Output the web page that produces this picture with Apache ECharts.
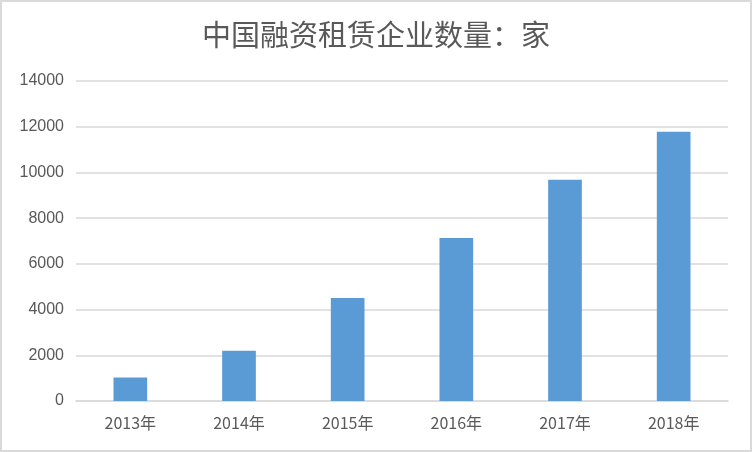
<!doctype html>
<html lang="zh">
<head>
<meta charset="UTF-8"/>
<title>中国融资租赁企业数量</title>
<script src="https://cdn.jsdelivr.net/npm/echarts@6/dist/echarts.min.js"></script>
<style>
	html, body { margin: 0; padding: 0; background: #fff; }
	#main { width: 748px; height: 448px; border: 2px solid #d9d9d9; }
</style>
</head>
<body>
<div id="main"></div>
<script type="text/javascript">
	// 数据
	var years = ['2013年', '2014年', '2015年', '2016年', '2017年', '2018年'];
	var counts = [1026, 2202, 4508, 7136, 9676, 11777];
	var yTicks = [0, 2000, 4000, 6000, 8000, 10000, 12000, 14000];

	var myChart = echarts.init(document.getElementById('main'));
	var option = {
		animation: false,
		title: {
			text: '中国融资租赁企业数量：家',
			left: 'center',
			top: 13,
			textStyle: {
				fontFamily: 'Noto Sans CJK SC',
				fontSize: 29,
				fontWeight: 'normal',
				color: '#595959'
			}
		},
		grid: {
			left: 74,
			right: 22,
			top: 79,
			bottom: 49
		},
		xAxis: {
			type: 'category',
			data: years,
			axisLine: { lineStyle: { color: '#d9d9d9', width: 1.5 } },
			axisTick: { show: false },
			axisLabel: {
				color: '#595959',
				fontSize: 16,
				fontFamily: 'Noto Sans CJK SC',
				margin: 14
			}
		},
		yAxis: {
			type: 'value',
			min: yTicks[0],
			max: yTicks[yTicks.length - 1],
			interval: 2000,
			axisLine: { show: false },
			axisTick: { show: false },
			axisLabel: {
				color: '#595959',
				fontSize: 16,
				fontFamily: 'Liberation Sans',
				margin: 12,
				formatter: function (v) { return String(v); }
			},
			splitLine: { lineStyle: { color: '#d9d9d9', width: 1.5 } }
		},
		series: [{
			name: '企业数量',
			type: 'bar',
			barWidth: '31%',
			itemStyle: { color: '#5b9bd5' },
			data: counts
		}]
	};
	myChart.setOption(option);
</script>
</body>
</html>
